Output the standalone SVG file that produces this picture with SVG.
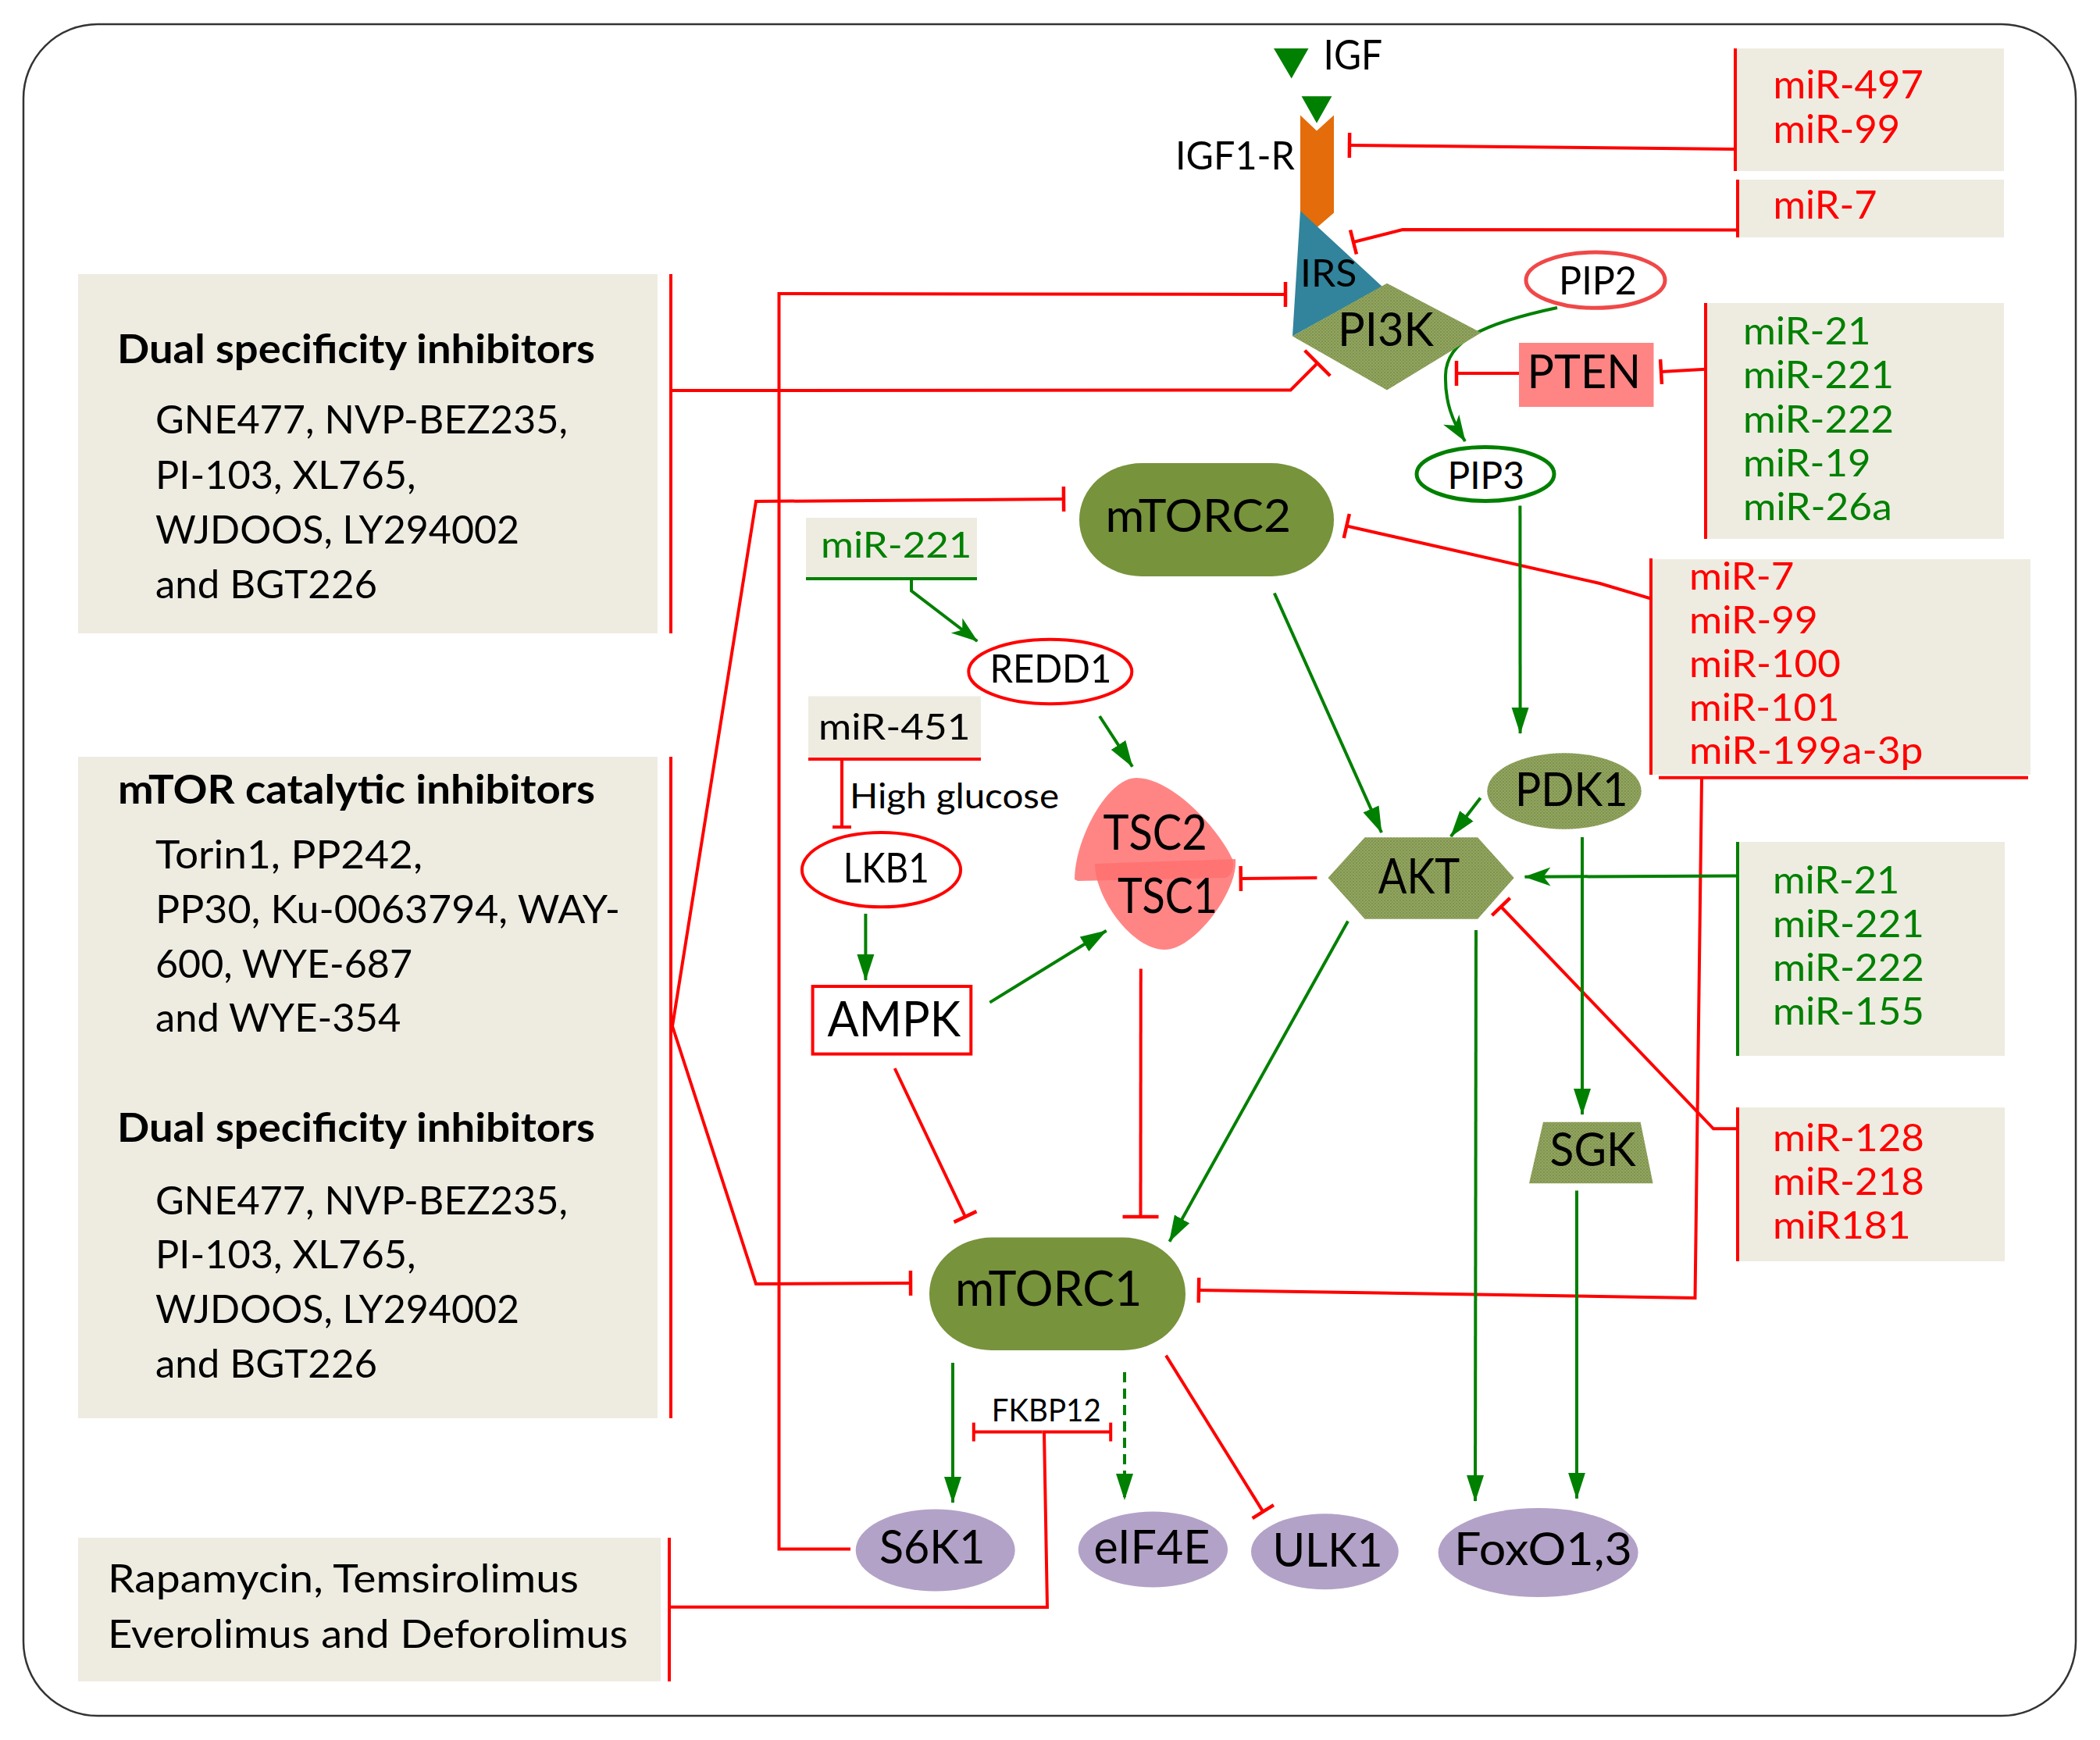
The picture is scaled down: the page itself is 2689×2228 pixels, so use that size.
<svg xmlns="http://www.w3.org/2000/svg" width="2689" height="2228" viewBox="0 0 2689 2228">
<style>
text{font-family:Lato,"Open Sans","DejaVu Sans",sans-serif;fill:#000}
.b{font-weight:700}
.r{fill:#FF0000}
.g{fill:#008000}
.box{fill:#EEECE1}
.rl{stroke:#FF0000;stroke-width:4;fill:none}
.gl{stroke:#008000;stroke-width:4;fill:none}
.olive{fill:#77933C}
.tex{fill:url(#tex)}
.pur{fill:#B3A2C7}
</style>
<defs>
<pattern id="tex" width="4" height="4" patternUnits="userSpaceOnUse"><rect width="4" height="4" fill="#92A563"/><rect width="2" height="2" fill="#7E924E"/><rect x="2" y="2" width="2" height="2" fill="#86994F"/></pattern>
<marker id="arr" markerUnits="userSpaceOnUse" markerWidth="36" markerHeight="24" refX="33" refY="12" orient="auto"><path d="M0,1 L34,12 L0,23 Z" fill="#008000"/></marker>
<marker id="stl" markerUnits="userSpaceOnUse" markerWidth="36" markerHeight="26" refX="33" refY="13" orient="auto"><path d="M0,1 L34,13 L0,25 L9,13 Z" fill="#008000"/></marker>
<marker id="tee" markerUnits="userSpaceOnUse" markerWidth="8" markerHeight="34" refX="4" refY="17" orient="auto"><path d="M4,1 V33" stroke="#FF0000" stroke-width="4.5"/></marker>
<marker id="teeL" markerUnits="userSpaceOnUse" markerWidth="8" markerHeight="48" refX="4" refY="24" orient="auto"><path d="M4,1 V47" stroke="#FF0000" stroke-width="4.5"/></marker>
<marker id="teeS" markerUnits="userSpaceOnUse" markerWidth="8" markerHeight="26" refX="4" refY="13" orient="auto"><path d="M4,1 V25" stroke="#FF0000" stroke-width="4"/></marker>
</defs>
<rect x="30" y="31" width="2628" height="2166" rx="95" ry="95" fill="#FFFFFF" stroke="#333" stroke-width="2.5"/>

<!-- inhibitor boxes -->
<g id="box-dual-top">
<rect class="box" x="100" y="351" width="742" height="460"/>
<path class="rl" d="M859,351 V811"/>
<text class="b" x="150" y="465" font-size="52" textLength="612" lengthAdjust="spacingAndGlyphs">Dual specificity inhibitors</text>
<text x="199" y="555.4" font-size="50" textLength="528" lengthAdjust="spacingAndGlyphs">GNE477, NVP-BEZ235,</text>
<text x="199" y="625.7" font-size="50" textLength="333.5" lengthAdjust="spacingAndGlyphs">PI-103, XL765,</text>
<text x="199" y="696.4" font-size="50" textLength="466" lengthAdjust="spacingAndGlyphs">WJDOOS, LY294002</text>
<text x="199" y="766" font-size="50" textLength="284" lengthAdjust="spacingAndGlyphs">and BGT226</text>
</g>
<g id="box-mtor-cat">
<rect class="box" x="100" y="969" width="742" height="847"/>
<path class="rl" d="M859,969 V1816"/>
<text class="b" x="151" y="1028.5" font-size="52" textLength="611" lengthAdjust="spacingAndGlyphs">mTOR catalytic inhibitors</text>
<text x="199" y="1112" font-size="50" textLength="342" lengthAdjust="spacingAndGlyphs">Torin1, PP242,</text>
<text x="199" y="1181.8" font-size="50" textLength="595" lengthAdjust="spacingAndGlyphs">PP30, Ku-0063794, WAY-</text>
<text x="199" y="1251.5" font-size="50" textLength="329" lengthAdjust="spacingAndGlyphs">600, WYE-687</text>
<text x="199" y="1321" font-size="50" textLength="314.4" lengthAdjust="spacingAndGlyphs">and WYE-354</text>
<text class="b" x="150" y="1462.4" font-size="52" textLength="612" lengthAdjust="spacingAndGlyphs">Dual specificity inhibitors</text>
<text x="199" y="1554.5" font-size="50" textLength="528" lengthAdjust="spacingAndGlyphs">GNE477, NVP-BEZ235,</text>
<text x="199" y="1624" font-size="50" textLength="333.5" lengthAdjust="spacingAndGlyphs">PI-103, XL765,</text>
<text x="199" y="1694" font-size="50" textLength="466" lengthAdjust="spacingAndGlyphs">WJDOOS, LY294002</text>
<text x="199" y="1763.6" font-size="50" textLength="284" lengthAdjust="spacingAndGlyphs">and BGT226</text>
</g>
<g id="box-rapalogs">
<rect class="box" x="100" y="1969" width="746" height="184"/>
<path class="rl" d="M857,1969 V2153"/>
<text x="138" y="2039" font-size="50" textLength="603" lengthAdjust="spacingAndGlyphs">Rapamycin, Temsirolimus</text>
<text x="138" y="2110" font-size="50" textLength="666" lengthAdjust="spacingAndGlyphs">Everolimus and Deforolimus</text>
</g>

<!-- miRNA boxes -->
<g id="mir-497">
<rect class="box" x="2222" y="62" width="344" height="157"/>
<path class="rl" d="M2222,62 V219"/>
<text class="r" x="2270.5" y="126.3" font-size="50" textLength="192.3" lengthAdjust="spacingAndGlyphs">miR-497</text>
<text class="r" x="2270.5" y="182.9" font-size="50" textLength="162.6" lengthAdjust="spacingAndGlyphs">miR-99</text>
</g>
<g id="mir-7-top">
<rect class="box" x="2225" y="230" width="341" height="74"/>
<path class="rl" d="M2225,230 V304"/>
<text class="r" x="2270.5" y="280.4" font-size="50" textLength="133" lengthAdjust="spacingAndGlyphs">miR-7</text>
</g>
<g id="mir-pten">
<rect class="box" x="2184" y="388" width="382" height="302"/>
<path class="rl" d="M2184,388 V690"/>
<text class="g" x="2232" y="440.7" font-size="49" textLength="163.5" lengthAdjust="spacingAndGlyphs">miR-21</text>
<text class="g" x="2232" y="497.2" font-size="49" textLength="193" lengthAdjust="spacingAndGlyphs">miR-221</text>
<text class="g" x="2232" y="553.8" font-size="49" textLength="193" lengthAdjust="spacingAndGlyphs">miR-222</text>
<text class="g" x="2232" y="610.3" font-size="49" textLength="163.5" lengthAdjust="spacingAndGlyphs">miR-19</text>
<text class="g" x="2232" y="665.5" font-size="49" textLength="190.7" lengthAdjust="spacingAndGlyphs">miR-26a</text>
</g>
<g id="mir-mtor">
<rect class="box" x="2114" y="716" width="486" height="276"/>
<path class="rl" d="M2114,715 V992 M2124,995.7 H2597"/>
<text class="r" x="2163" y="755" font-size="49" textLength="134.4" lengthAdjust="spacingAndGlyphs">miR-7</text>
<text class="r" x="2163" y="810.7" font-size="49" textLength="164.6" lengthAdjust="spacingAndGlyphs">miR-99</text>
<text class="r" x="2163" y="866.8" font-size="49" textLength="193.8" lengthAdjust="spacingAndGlyphs">miR-100</text>
<text class="r" x="2163" y="923" font-size="49" textLength="192.3" lengthAdjust="spacingAndGlyphs">miR-101</text>
<text class="r" x="2163" y="978.4" font-size="49" textLength="299.5" lengthAdjust="spacingAndGlyphs">miR-199a-3p</text>
</g>
<g id="mir-akt-act">
<rect class="box" x="2225" y="1078" width="342" height="274"/>
<path class="gl" d="M2225,1078 V1352"/>
<text class="g" x="2270" y="1144" font-size="49" textLength="162.4" lengthAdjust="spacingAndGlyphs">miR-21</text>
<text class="g" x="2270" y="1200" font-size="49" textLength="194" lengthAdjust="spacingAndGlyphs">miR-221</text>
<text class="g" x="2270" y="1255.9" font-size="49" textLength="194" lengthAdjust="spacingAndGlyphs">miR-222</text>
<text class="g" x="2270" y="1311.5" font-size="49" textLength="194" lengthAdjust="spacingAndGlyphs">miR-155</text>
</g>
<g id="mir-akt-inh">
<rect class="box" x="2225" y="1418" width="342" height="197"/>
<path class="rl" d="M2225,1418 V1615"/>
<text class="r" x="2270" y="1474" font-size="49" textLength="194" lengthAdjust="spacingAndGlyphs">miR-128</text>
<text class="r" x="2270" y="1529.6" font-size="49" textLength="194" lengthAdjust="spacingAndGlyphs">miR-218</text>
<text class="r" x="2270" y="1586" font-size="49" textLength="176.8" lengthAdjust="spacingAndGlyphs">miR181</text>
</g>
<g id="mir-221">
<rect class="box" x="1032" y="663" width="219" height="76"/>
<path class="gl" d="M1032,741 H1251"/>
<text class="g" x="1051" y="713.6" font-size="46" textLength="193.4" lengthAdjust="spacingAndGlyphs">miR-221</text>
</g>
<g id="mir-451">
<rect class="box" x="1035" y="891.5" width="221" height="78"/>
<path class="rl" d="M1035,972 H1256"/>
<text x="1048" y="947.2" font-size="46" textLength="194.6" lengthAdjust="spacingAndGlyphs">miR-451</text>
</g>

<!-- connectors -->
<g id="connectors">
<path class="rl" d="M2222,191 L1728,186" marker-end="url(#tee)"/>
<path class="rl" d="M2225,294.6 L1796,294 L1733,310" marker-end="url(#tee)"/>
<path class="rl" d="M859,500 L1652.6,499.4 L1687,465" marker-end="url(#teeL)"/>
<path class="rl" d="M1089,1983.6 L997.5,1983.6 L997.5,376 L1646,377" marker-end="url(#tee)"/>
<path class="rl" d="M861,1314 L968,642 L1362,639" marker-end="url(#tee)"/>
<path class="rl" d="M861,1314 L968,1644 L1166,1643" marker-end="url(#tee)"/>
<path class="rl" d="M2114,766.5 L2048.5,747 L1724.3,673.5" marker-end="url(#tee)"/>
<path class="rl" d="M2179,997 L2170.5,1662 L1535,1652" marker-end="url(#tee)"/>
<path class="rl" d="M2184,472.7 L2127,476" marker-end="url(#tee)"/>
<path class="rl" d="M1945,478 L1865,478" marker-end="url(#tee)"/>
<path class="gl" d="M1994,394 C1900,414 1852,436 1851,480 C1850,515 1860,540 1876,565" marker-end="url(#stl)"/>
<path class="gl" d="M1946.4,647.5 L1946.6,939" marker-end="url(#arr)"/>
<path class="gl" d="M1631.8,759.5 L1769,1066" marker-end="url(#arr)"/>
<path class="gl" d="M1895.7,1021.7 L1857.8,1071" marker-end="url(#arr)"/>
<path class="gl" d="M2225,1121.6 L1952.5,1122.7" marker-end="url(#stl)"/>
<path class="rl" d="M2225,1445.3 L2194,1445.3 L1922,1161" marker-end="url(#tee)"/>
<path class="rl" d="M1686.4,1124 L1588.8,1125" marker-end="url(#tee)"/>
<path class="gl" d="M1726,1179.5 L1497.5,1589.7" marker-end="url(#arr)"/>
<path class="gl" d="M1890,1191 L1889,1922" marker-end="url(#arr)"/>
<path class="gl" d="M2026,1072 L2026,1427" marker-end="url(#arr)"/>
<path class="gl" d="M2019,1524.5 L2019,1918.7" marker-end="url(#arr)"/>
<path class="gl" d="M1167,741 L1167,756.6 L1251.3,821" marker-end="url(#stl)"/>
<path class="gl" d="M1408,917 L1450,981.6" marker-end="url(#arr)"/>
<path class="rl" d="M1078,972 L1078,1059" marker-end="url(#teeS)"/>
<path class="gl" d="M1108.4,1170 L1108.4,1255" marker-end="url(#arr)"/>
<path class="gl" d="M1267.4,1283.6 L1416.6,1191.7" marker-end="url(#arr)"/>
<path class="rl" d="M1145.7,1368 L1236,1558" marker-end="url(#tee)"/>
<path class="rl" d="M1460.8,1240.5 L1460.5,1558" marker-end="url(#teeL)"/>
<path class="gl" d="M1220,1745 L1220,1924" marker-end="url(#arr)"/>
<path class="gl" d="M1440,1757 L1440,1920" stroke-dasharray="13,8" marker-end="url(#arr)"/>
<path class="rl" d="M1493,1735.6 L1617.3,1935.6" marker-end="url(#tee)"/>
<path class="rl" d="M1334.5,1833.6 L1246.8,1833.6" marker-end="url(#teeS)"/>
<path class="rl" d="M1334.5,1833.6 L1422.2,1833.6" marker-end="url(#teeS)"/>
<path class="rl" d="M857,2057.7 L1341,2058 L1337,1833.6"/>
</g>

<!-- receptor complex -->
<g id="igf">
<path d="M1631,62 L1675.5,62 L1653.7,100.4 Z" fill="#008000"/>
<text x="1694.5" y="89" font-size="53" textLength="75.5" lengthAdjust="spacingAndGlyphs">IGF</text>
</g>
<g id="igf1r">
<path d="M1665,147.5 L1686,167.6 L1708,147.5 L1708,272.6 L1686,291.6 L1665,272.6 Z" fill="#E46C0A"/>
<path d="M1664,121.7 L1708,121.7 L1686,160.7 Z" fill="#008000" stroke="#FFFFFF" stroke-width="3"/>
<text x="1505" y="217" font-size="50" textLength="153" lengthAdjust="spacingAndGlyphs">IGF1-R</text>
</g>
<g id="irs">
<path d="M1665,270 L1770,367 L1655,430.5 Z" fill="#31849B"/>
<text x="1665" y="367" font-size="48" textLength="72.5" lengthAdjust="spacingAndGlyphs">IRS</text>
</g>
<g id="pi3k">
<path class="tex" d="M1655,430.5 L1776,362.8 L1896.5,426 L1776,499.4 Z"/>
<text x="1713" y="443" font-size="60" textLength="123" lengthAdjust="spacingAndGlyphs">PI3K</text>
</g>
<g id="pip2">
<ellipse cx="2043" cy="358.7" rx="89" ry="35.6" fill="#FFFFFF" stroke="#F04848" stroke-width="5"/>
<text x="1996" y="377" font-size="50" textLength="100" lengthAdjust="spacingAndGlyphs">PIP2</text>
</g>
<g id="pten">
<rect x="1945" y="439" width="172.5" height="82" fill="#FF8585"/>
<text x="1955.6" y="496.5" font-size="60" textLength="145.4" lengthAdjust="spacingAndGlyphs">PTEN</text>
</g>
<g id="pip3">
<ellipse cx="1902" cy="607" rx="88" ry="34.5" fill="#FFFFFF" stroke="#008000" stroke-width="5"/>
<text x="1853.5" y="625.7" font-size="48" textLength="98.5" lengthAdjust="spacingAndGlyphs">PIP3</text>
</g>
<g id="mtorc2">
<rect class="olive" x="1382" y="593" width="326" height="145" rx="80" ry="72"/>
<text x="1415.4" y="681" font-size="59" textLength="237.6" lengthAdjust="spacingAndGlyphs">mTORC2</text>
</g>
<g id="redd1">
<ellipse cx="1344.8" cy="860" rx="104.5" ry="41.3" fill="#FFFFFF" stroke="#FF0000" stroke-width="4"/>
<text x="1267.4" y="874.3" font-size="50" textLength="156" lengthAdjust="spacingAndGlyphs">REDD1</text>
</g>
<text x="1088" y="1035" font-size="44" textLength="268" lengthAdjust="spacingAndGlyphs">High glucose</text>
<g id="lkb1">
<ellipse cx="1128.5" cy="1113.7" rx="101.6" ry="47.6" fill="#FFFFFF" stroke="#FF0000" stroke-width="4"/>
<text x="1079.7" y="1129.7" font-size="52" textLength="110" lengthAdjust="spacingAndGlyphs">LKB1</text>
</g>
<g id="ampk">
<rect x="1040.6" y="1263" width="202.7" height="86.6" fill="#FFFFFF" stroke="#FF0000" stroke-width="4"/>
<text x="1059.6" y="1326.6" font-size="62" textLength="170.4" lengthAdjust="spacingAndGlyphs">AMPK</text>
</g>
<g id="tsc">
<path d="M1376,1126 C1376,1075 1418,996 1455,996 C1500,996 1560,1060 1578,1100 C1581,1110 1578,1120 1570,1124 L1380,1128 Z" fill="#FF7070" fill-opacity="0.85"/>
<path d="M1402,1106 L1582,1100 C1586,1140 1530,1216 1491,1216 C1450,1216 1402,1150 1402,1106 Z" fill="#FF7070" fill-opacity="0.85"/>
<text x="1412.6" y="1087.8" font-size="61" textLength="133" lengthAdjust="spacingAndGlyphs">TSC2</text>
<text x="1431" y="1168.8" font-size="61" textLength="128" lengthAdjust="spacingAndGlyphs">TSC1</text>
</g>
<g id="akt">
<path class="tex" d="M1700.5,1123.9 L1747.6,1072.2 L1892.2,1072.2 L1938.7,1123.9 L1892.2,1176.7 L1747.6,1176.7 Z"/>
<text x="1764.8" y="1144" font-size="61" textLength="104.5" lengthAdjust="spacingAndGlyphs">AKT</text>
</g>
<g id="pdk1">
<ellipse class="tex" cx="2003" cy="1013" rx="98.7" ry="48.8"/>
<text x="1940" y="1032" font-size="60" textLength="144.5" lengthAdjust="spacingAndGlyphs">PDK1</text>
</g>
<g id="sgk">
<path class="tex" d="M1976,1436.7 L2100.6,1436.7 L2116.6,1515.3 L1958,1515.3 Z"/>
<text x="1984.6" y="1493" font-size="60" textLength="110" lengthAdjust="spacingAndGlyphs">SGK</text>
</g>
<g id="mtorc1">
<rect class="olive" x="1190" y="1584.6" width="328" height="144.4" rx="80" ry="72"/>
<text x="1223" y="1672" font-size="61" textLength="239.4" lengthAdjust="spacingAndGlyphs">mTORC1</text>
</g>
<text x="1269.8" y="1819.8" font-size="40" textLength="140" lengthAdjust="spacingAndGlyphs">FKBP12</text>
<g id="s6k1">
<ellipse class="pur" cx="1197.7" cy="1985" rx="102" ry="52.6"/>
<text x="1126" y="2002" font-size="60" textLength="135.5" lengthAdjust="spacingAndGlyphs">S6K1</text>
</g>
<g id="eif4e">
<ellipse class="pur" cx="1476.4" cy="1984" rx="95.7" ry="48.5"/>
<text x="1400.5" y="2002" font-size="60" textLength="149" lengthAdjust="spacingAndGlyphs">eIF4E</text>
</g>
<g id="ulk1">
<ellipse class="pur" cx="1696.4" cy="1986.7" rx="94.4" ry="48.5"/>
<text x="1629.5" y="2005.5" font-size="60" textLength="141" lengthAdjust="spacingAndGlyphs">ULK1</text>
</g>
<g id="foxo">
<ellipse class="pur" cx="1969.6" cy="1988" rx="128" ry="57"/>
<text x="1862" y="2004" font-size="58" textLength="228" lengthAdjust="spacingAndGlyphs">FoxO1,3</text>
</g>
</svg>
